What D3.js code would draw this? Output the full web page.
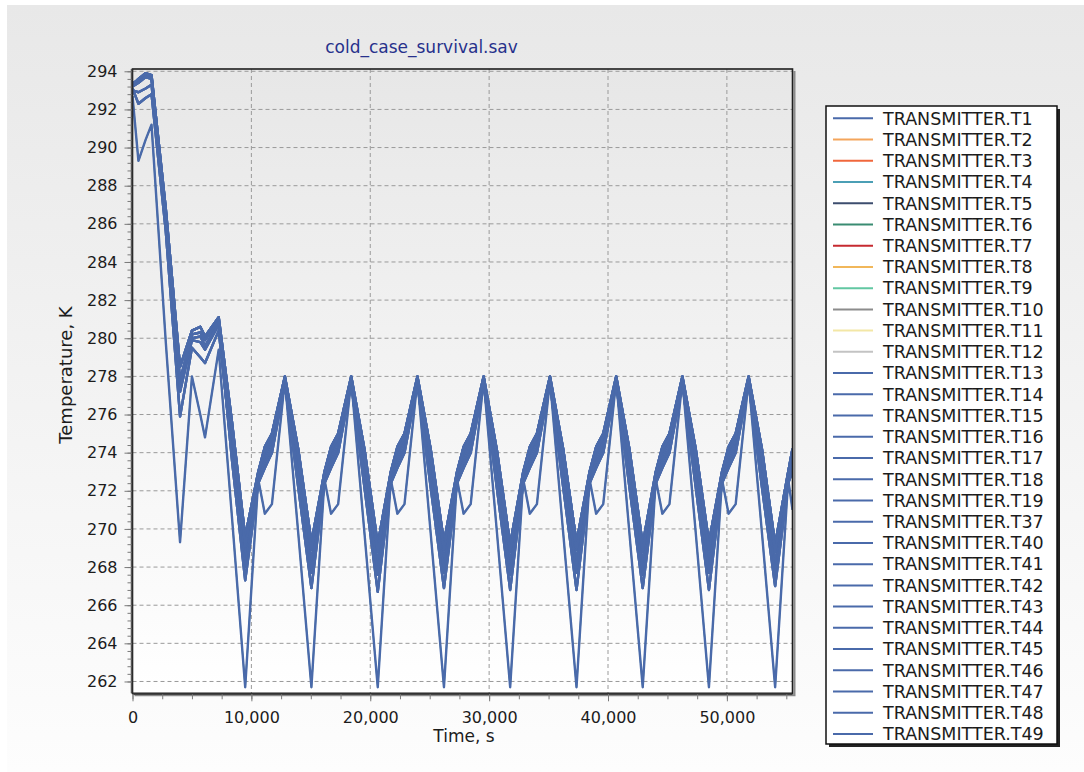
<!DOCTYPE html>
<html><head><meta charset="utf-8">
<script src="https://cdn.jsdelivr.net/npm/d3@7"></script>
<style>body{margin:0;background:#fff} svg{display:block}</style>
</head><body>
<svg id="chart" width="1084" height="772"></svg>
<script>
// ---------- DATA ----------
const timeS = [0, 500, 1100, 1600, 2800, 4000, 5000, 5700, 6100, 7250, 8370, 9480,
  10580, 11130, 11730, 12820, 13940, 15050,
  16150, 16700, 17300, 18400, 19510, 20630,
  21730, 22280, 22880, 23970, 25080, 26200,
  27300, 27850, 28450, 29540, 30660, 31770,
  32870, 33420, 34020, 35120, 36230, 37350,
  38450, 39000, 39600, 40690, 41800, 42920,
  44020, 44570, 45170, 46260, 47380, 48490,
  49590, 50140, 50740, 51830, 52950, 54060,
  55160, 55520];

const profileA = [293.3, 293.6, 293.9, 293.8, 286.8, 278.5, 280.4, 280.6, 280.1, 281.1, 275.6, 269.6,
  273.0, 274.3, 275.0, 278.0, 274.2, 269.3,
  273.0, 274.3, 275.0, 278.0, 274.2, 269.2,
  273.0, 274.3, 275.0, 278.0, 274.2, 269.3,
  273.0, 274.3, 275.0, 278.0, 274.1, 269.2,
  273.0, 274.3, 275.0, 278.0, 274.2, 269.3,
  273.0, 274.3, 275.0, 278.0, 274.2, 269.2,
  273.0, 274.3, 275.0, 278.0, 274.2, 269.3,
  273.0, 274.3, 275.0, 278.0, 274.2, 269.2,
  273.0, 274.2];
const profileB = [293.2, 293.4, 293.7, 293.6, 286.4, 277.8, 280.2, 280.3, 279.9, 280.9, 275.1, 269.1,
  272.9, 274.1, 274.8, 277.9, 273.8, 268.9,
  272.9, 274.1, 274.8, 277.9, 273.8, 268.8,
  272.9, 274.1, 274.8, 277.9, 273.8, 268.9,
  272.9, 274.1, 274.8, 277.9, 273.7, 268.8,
  272.9, 274.1, 274.8, 277.9, 273.8, 268.9,
  272.9, 274.1, 274.8, 277.9, 273.8, 268.8,
  272.9, 274.1, 274.8, 277.9, 273.8, 268.9,
  272.9, 274.1, 274.8, 277.9, 273.8, 268.8,
  272.9, 273.9];
const profileC = [293.0, 292.9, 293.1, 293.3, 286.1, 277.2, 279.9, 279.8, 279.4, 280.7, 274.6, 268.6,
  272.7, 273.8, 274.6, 277.8, 273.3, 268.3,
  272.7, 273.8, 274.6, 277.8, 273.3, 268.2,
  272.7, 273.8, 274.6, 277.8, 273.3, 268.3,
  272.7, 273.8, 274.6, 277.8, 273.2, 268.2,
  272.7, 273.8, 274.6, 277.8, 273.3, 268.3,
  272.7, 273.8, 274.6, 277.8, 273.3, 268.2,
  272.7, 273.8, 274.6, 277.8, 273.3, 268.3,
  272.7, 273.8, 274.6, 277.8, 273.3, 268.2,
  272.7, 273.6];
const profileD = [293.1, 292.3, 292.6, 292.8, 285.6, 275.9, 279.5, 279.0, 278.7, 280.4, 274.0, 268.0,
  272.6, 273.5, 274.3, 277.7, 272.8, 267.7,
  272.6, 273.5, 274.3, 277.7, 272.8, 267.6,
  272.6, 273.5, 274.3, 277.7, 272.8, 267.7,
  272.6, 273.5, 274.3, 277.7, 272.7, 267.6,
  272.6, 273.5, 274.3, 277.7, 272.8, 267.7,
  272.6, 273.5, 274.3, 277.7, 272.8, 267.6,
  272.6, 273.5, 274.3, 277.7, 272.8, 267.7,
  272.6, 273.5, 274.3, 277.7, 272.8, 267.6,
  272.6, 273.3];
const profileE = [293.4, 293.5, 293.8, 293.7, 286.6, 277.5, 280.0, 280.1, 279.6, 280.8, 273.6, 267.3,
  272.4, 273.2, 274.0, 277.6, 272.2, 266.9,
  272.4, 273.2, 274.0, 277.6, 272.2, 266.7,
  272.4, 273.2, 274.0, 277.6, 272.2, 266.9,
  272.4, 273.2, 274.0, 277.6, 272.1, 266.8,
  272.4, 273.2, 274.0, 277.6, 272.2, 266.8,
  272.4, 273.2, 274.0, 277.6, 272.2, 266.9,
  272.4, 273.2, 274.0, 277.6, 272.2, 266.8,
  272.4, 273.2, 274.0, 277.6, 272.2, 267.0,
  272.4, 273.0];
const profileDeep = [292.7, 289.3, 290.4, 291.2, 279.8, 269.3, 278.0, 276.0, 274.8, 279.4, 270.6, 261.7,
  272.6, 270.8, 271.3, 277.8, 269.8, 261.7,
  272.6, 270.8, 271.3, 277.8, 269.8, 261.7,
  272.6, 270.8, 271.3, 277.8, 269.8, 261.7,
  272.6, 270.8, 271.3, 277.8, 269.8, 261.7,
  272.6, 270.8, 271.3, 277.8, 269.8, 261.7,
  272.6, 270.8, 271.3, 277.8, 269.8, 261.7,
  272.6, 270.8, 271.3, 277.8, 269.8, 261.7,
  272.6, 270.8, 271.3, 277.8, 269.8, 261.7,
  272.6, 271.0];

const seriesNames = ["TRANSMITTER.T1","TRANSMITTER.T2","TRANSMITTER.T3","TRANSMITTER.T4","TRANSMITTER.T5",
  "TRANSMITTER.T6","TRANSMITTER.T7","TRANSMITTER.T8","TRANSMITTER.T9","TRANSMITTER.T10",
  "TRANSMITTER.T11","TRANSMITTER.T12","TRANSMITTER.T13","TRANSMITTER.T14","TRANSMITTER.T15",
  "TRANSMITTER.T16","TRANSMITTER.T17","TRANSMITTER.T18","TRANSMITTER.T19","TRANSMITTER.T37",
  "TRANSMITTER.T40","TRANSMITTER.T41","TRANSMITTER.T42","TRANSMITTER.T43","TRANSMITTER.T44",
  "TRANSMITTER.T45","TRANSMITTER.T46","TRANSMITTER.T47","TRANSMITTER.T48","TRANSMITTER.T49"];
const seriesColors = ["#4a6aaa","#f4a55c","#f0673c","#4b9fb5","#3c4d6e","#3a8c72","#c62a30","#f1b75a",
  "#62c7a2","#8c8c8c","#f3e7a6","#c3c3c3",
  "#4a6aaa","#4a6aaa","#4a6aaa","#4a6aaa","#4a6aaa","#4a6aaa","#4a6aaa","#4a6aaa",
  "#4a6aaa","#4a6aaa","#4a6aaa","#4a6aaa","#4a6aaa","#4a6aaa","#4a6aaa","#4a6aaa","#4a6aaa","#4a6aaa"];
const seriesProfile = ["A","B","C","D","E","Deep","A","B","C","D","E","A",
  "A","B","C","D","E","Deep","A","B","C","D","E","A","B","C","D","E","A","B"];
const profiles = {A: profileA, B: profileB, C: profileC, D: profileD, E: profileE, Deep: profileDeep};

const xTicks = [0, 10000, 20000, 30000, 40000, 50000];
const yTicks = [262, 264, 266, 268, 270, 272, 274, 276, 278, 280, 282, 284, 286, 288, 290, 292, 294];
const titleText = "cold_case_survival.sav";
const xLabel = "Time, s";
const yLabel = "Temperature, K";

// ---------- LAYOUT ----------
const W = 1084, H = 772;
const L = 132.5, R = 792.5, T = 69, B = 693.3;
const svg = d3.select("#chart");
const font = "'DejaVu Sans', Verdana, sans-serif";

const defs = svg.append("defs");
const g1 = defs.append("linearGradient").attr("id","bgGrad").attr("x1",0).attr("y1",0).attr("x2",0).attr("y2",1);
g1.append("stop").attr("offset","0%").attr("stop-color","#e8e8e8");
g1.append("stop").attr("offset","100%").attr("stop-color","#fdfdfd");
const g2 = defs.append("linearGradient").attr("id","plotGrad").attr("x1",0).attr("y1",0).attr("x2",0).attr("y2",1);
g2.append("stop").attr("offset","0%").attr("stop-color","#e7e7e7");
g2.append("stop").attr("offset","100%").attr("stop-color","#ffffff");
defs.append("clipPath").attr("id","plotClip").append("rect")
  .attr("x",L).attr("y",T).attr("width",R-L).attr("height",B-T);

svg.append("rect").attr("width",W).attr("height",H).attr("fill","#ffffff");
svg.append("rect").attr("x",7).attr("y",5).attr("width",W-7).attr("height",H-5).attr("fill","url(#bgGrad)");
svg.append("rect").attr("x",L).attr("y",T).attr("width",R-L).attr("height",B-T).attr("fill","url(#plotGrad)");

const x = d3.scaleLinear().domain([0, 55520]).range([L, R]);
const y = d3.scaleLinear().domain([261.38, 294.12]).range([B, T]);

// grid
const grid = svg.append("g").attr("clip-path","url(#plotClip)");
grid.selectAll("line.gx").data(xTicks.slice(1)).join("line")
  .attr("x1",d=>x(d)).attr("x2",d=>x(d)).attr("y1",T).attr("y2",B)
  .attr("stroke","#9a9a9a").attr("stroke-dasharray","4,3").attr("stroke-width",1);
grid.selectAll("line.gy").data(yTicks).join("line")
  .attr("class","gy")
  .attr("y1",d=>y(d)).attr("y2",d=>y(d)).attr("x1",L).attr("x2",R)
  .attr("stroke","#9a9a9a").attr("stroke-dasharray","4,3").attr("stroke-width",1);

// lines
const lineGen = d3.line().x((d,i)=>x(timeS[i])).y(d=>y(d));
const lg = svg.append("g").attr("clip-path","url(#plotClip)");
seriesNames.forEach((name, i) => {
  lg.append("path").datum(profiles[seriesProfile[i]])
    .attr("d", lineGen).attr("fill","none")
    .attr("stroke", seriesColors[i])
    .attr("stroke-width", i < 12 && i > 0 ? 1.4 : 2.4)
    .attr("stroke-linejoin","round");
});

// frame
svg.append("path").attr("d",`M${L+2},${B+2}H${R+2}V${T+2}`).attr("fill","none").attr("stroke","#8a8a8a").attr("stroke-width",2);
svg.append("rect").attr("x",L).attr("y",T).attr("width",R-L).attr("height",B-T)
  .attr("fill","none").attr("stroke","#1e1e1e").attr("stroke-width",1.6);
svg.append("line").attr("x1",L-1).attr("x2",L-1).attr("y1",T).attr("y2",B).attr("stroke","#555").attr("stroke-width",1.5);
svg.append("line").attr("x1",L).attr("x2",R).attr("y1",B+1).attr("y2",B+1).attr("stroke","#444").attr("stroke-width",1.5);

// axes
const xMinor = svg.append("g").attr("transform",`translate(0,${B+1})`)
  .call(d3.axisBottom(x).tickValues(d3.range(0, 55520, 2500)).tickSize(5).tickFormat(""));
const xMajor = svg.append("g").attr("transform",`translate(0,${B+1})`)
  .call(d3.axisBottom(x).tickValues(xTicks).tickSize(7).tickPadding(10).tickFormat(d3.format(",")));
const yMinor = svg.append("g").attr("transform",`translate(${L-1},0)`)
  .call(d3.axisLeft(y).tickValues(d3.range(262, 294.01, 0.4)).tickSize(4).tickFormat(""));
const yMajor = svg.append("g").attr("transform",`translate(${L-1},0)`)
  .call(d3.axisLeft(y).tickValues(yTicks).tickSize(7).tickPadding(7).tickFormat(d3.format("d")));
[xMinor,xMajor,yMinor,yMajor].forEach(a=>{
  a.select(".domain").remove();
  a.selectAll(".tick line").attr("stroke","#7a7a7a");
  a.selectAll("text").attr("font-family",font).attr("font-size",16).attr("fill","#1c1c1c");
});

// titles
svg.append("text").attr("x",421.5).attr("y",52.5).attr("text-anchor","middle")
  .attr("font-family",font).attr("font-size",17).attr("fill","#27318c").text(titleText);
svg.append("text").attr("x",464).attr("y",741.5).attr("text-anchor","middle")
  .attr("font-family",font).attr("font-size",17).attr("fill","#1c1c1c").text(xLabel);
svg.append("text").attr("transform","translate(72,375) rotate(-90)").attr("text-anchor","middle")
  .attr("font-family",font).attr("font-size",18).attr("fill","#1c1c1c").text(yLabel);

// legend
const LX = 826, LY = 106, LW = 231, LH = 638;
svg.append("rect").attr("x",LX+3).attr("y",LY+3).attr("width",LW).attr("height",LH).attr("fill","#222");
svg.append("rect").attr("x",LX).attr("y",LY).attr("width",LW).attr("height",LH)
  .attr("fill","#ffffff").attr("stroke","#111").attr("stroke-width",1.5);
const leg = svg.append("g");
const rowY = d3.scaleLinear().domain([0, seriesNames.length-1]).range([118.3, 734]);
seriesNames.forEach((name,i)=>{
  const yy = rowY(i);
  leg.append("line").attr("x1",833).attr("x2",873).attr("y1",yy).attr("y2",yy)
    .attr("stroke",seriesColors[i]).attr("stroke-width",2);
  leg.append("text").attr("x",883).attr("y",yy).attr("dy","0.36em")
    .attr("font-family",font).attr("font-size",17.5).attr("fill","#1c1c1c").text(name);
});
</script>
</body></html>
